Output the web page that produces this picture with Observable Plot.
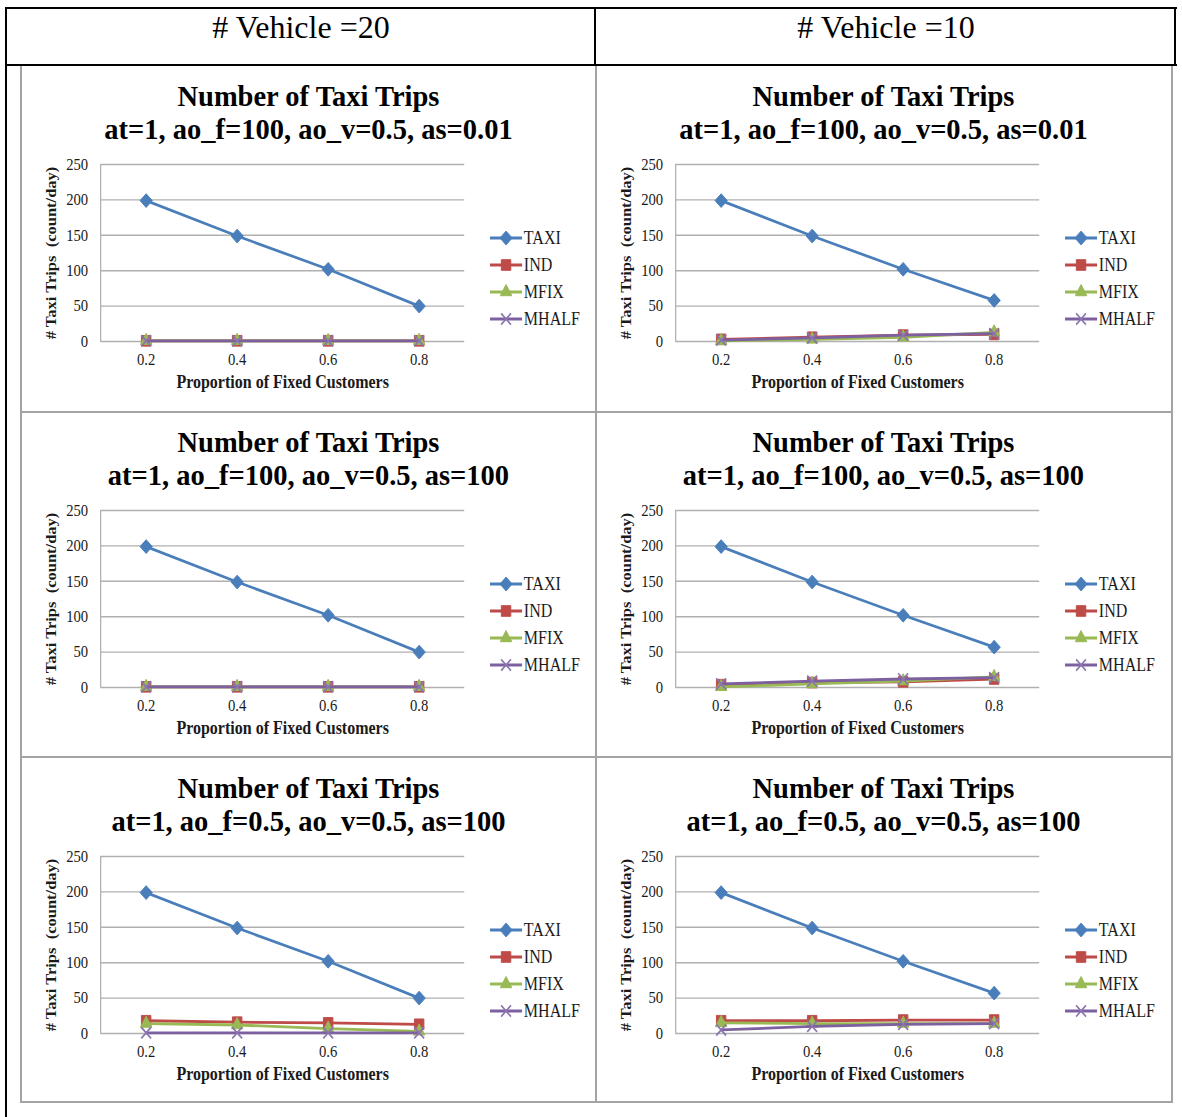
<!DOCTYPE html>
<html>
<head>
<meta charset="utf-8">
<script src="https://cdn.jsdelivr.net/npm/d3@7"></script>
<script src="https://cdn.jsdelivr.net/npm/@observablehq/plot@0.6"></script>
<style>
  body { margin: 0; background: #fff; }
  #page { position: relative; width: 1182px; height: 1117px; overflow: hidden; font-family: "Liberation Serif", "Times New Roman", serif; }
  .rule { position: absolute; }
  .header { position: absolute; top: 11px; font-size: 32px; line-height: 32px; text-align: center; color: #000; }
  .panel { position: absolute; width: 646px; height: 346px; transform: scaleX(0.89); transform-origin: 0 0; }
  .panel svg { position: absolute; left: 0; top: 0; }
  .panel g[aria-label$="tick label"], .panel g[aria-label$="tick label"] text { font-family: "Liberation Serif", "Times New Roman", serif; font-size: 16.5px; fill: #1a1a1a; }
  .title { position: absolute; left: 0; top: 15px; width: 646px; text-align: center; font-weight: bold; font-size: 29.5px; line-height: 33px; color: #000; transform: scaleX(1.085); transform-origin: 323px 0; }
</style>
</head>
<body>
<div id="page"></div>
<script>
// Categories and series
const xValues = [0.2, 0.4, 0.6, 0.8];
const yTicks = [0, 50, 100, 150, 200, 250];
const seriesNames = ["TAXI", "IND", "MFIX", "MHALF"];
const seriesColors = ["#4A7EBB", "#BE4B48", "#98B954", "#7D60A0"];
const seriesSymbols = ["diamond2", "square", "triangle", "times"];
const seriesRadius = [6.2, 6.0, 4.8, 5.1];

// Text
const columnHeaders = ["# Vehicle =20", "# Vehicle =10"];
const chartTitle = "Number of Taxi Trips";
const rowSubtitles = [
  "at=1, ao_f=100, ao_v=0.5, as=0.01",
  "at=1, ao_f=100, ao_v=0.5, as=100",
  "at=1, ao_f=0.5, ao_v=0.5, as=100"
];
const xLabel = "Proportion of Fixed Customers";
const yLabel = "# Taxi Trips  (count/day)";

// Trips per day, one row per series: TAXI, IND, MFIX, MHALF
const veh20_as001 = [[199, 149, 102, 50], [1, 1, 1, 1], [1, 1, 1, 1], [1, 1, 1, 1]];
const veh10_as001 = [[199, 149, 102, 58], [3, 6, 9, 10], [1, 3, 6, 13], [2, 5, 9, 11]];
const veh20_as100 = [[199, 149, 102, 50], [1, 1, 1, 1], [1, 1, 1, 1], [1, 1, 1, 1]];
const veh10_as100 = [[199, 149, 102, 57], [4, 7, 8, 12], [1, 5, 9, 15], [5, 9, 12, 14]];
const veh20_aof05 = [[199, 149, 102, 50], [18, 16, 15, 13], [14, 12, 7, 3], [1, 1, 1, 1]];
const veh10_aof05 = [[199, 149, 102, 57], [18, 18, 19, 19], [15, 14, 14, 14], [5, 10, 13, 14]];

const grid = [
  [veh20_as001, veh10_as001],
  [veh20_as100, veh10_as100],
  [veh20_aof05, veh10_aof05]
];

const page = document.getElementById("page");
const FONT = "Liberation Serif, Times New Roman, serif";

function rule(left, top, width, height, color) {
  const d = document.createElement("div");
  d.className = "rule";
  Object.assign(d.style, { left: left + "px", top: top + "px", width: width + "px", height: height + "px", background: color });
  page.appendChild(d);
}

// Table frame
const colLefts = [21, 596];
const rowTops = [65, 411, 757];
const gray = "#a3a3a3";
rule(20, 65, 2, 1038, gray);
rule(595, 65, 2, 1038, gray);
rule(1171, 65, 2, 1038, gray);
rule(20, 411, 1153, 2, gray);
rule(20, 756, 1153, 2, gray);
rule(20, 1101, 1153, 2, gray);
rule(5, 7, 1172, 2, "#000");
rule(5, 7, 2, 1110, "#000");
rule(5, 64, 1172, 2, "#000");
rule(594, 7, 2, 58, "#000");
rule(1174, 7, 2, 59, "#000");

// Column headers
columnHeaders.forEach((h, c) => {
  const d = document.createElement("div");
  d.className = "header";
  d.style.left = (c === 0 ? 6 : 596) + "px";
  d.style.width = (c === 0 ? 590 : 580) + "px";
  d.textContent = h;
  page.appendChild(d);
});

function panelChart(values) {
  const marks = [
    Plot.ruleY(yTicks, { stroke: "#b0b0b0", strokeWidth: 1.4 }),
    Plot.ruleX([0.1], { y1: 0, y2: 250, stroke: "#b0b0b0", strokeWidth: 1.4 }),
    Plot.axisY(yTicks, { tickSize: 0, tickPadding: 14, fontSize: 16.5, fontFamily: FONT, label: null }),
    Plot.axisX(xValues, { tickSize: 0, tickPadding: 12, tickFormat: d3.format(".1f"), fontSize: 16.5, fontFamily: FONT, label: null })
  ];
  seriesNames.forEach((name, s) => {
    const rows = xValues.map((x, i) => ({ x, y: values[s][i], series: name }));
    marks.push(Plot.line(rows, { x: "x", y: "y", stroke: seriesColors[s], strokeWidth: 2.8 }));
    if (seriesSymbols[s] === "times") {
      marks.push(Plot.dot(rows, { x: "x", y: "y", symbol: "times", r: seriesRadius[s], stroke: "#8B74B0", strokeWidth: 1.8, fill: "none" }));
    } else {
      marks.push(Plot.dot(rows, { x: "x", y: "y", symbol: seriesSymbols[s], r: seriesRadius[s], fill: seriesColors[s], stroke: seriesColors[s], strokeWidth: 1 }));
    }
  });
  marks.push(Plot.text([xLabel], { text: d => d, frameAnchor: "bottom", dy: 41, lineAnchor: "middle", fontSize: 18, fontWeight: "bold", fontFamily: FONT, fill: "#1a1a1a" }));
  marks.push(Plot.text([yLabel], { text: d => d, frameAnchor: "left", rotate: -90, dx: -56, textAnchor: "middle", lineAnchor: "middle", fontSize: 16.5, fontWeight: "bold", fontFamily: FONT, fill: "#1a1a1a" }));

  return Plot.plot({
    width: 646,
    height: 346,
    marginTop: 99,
    marginBottom: 70,
    marginLeft: 89,
    marginRight: 148,
    x: { type: "linear", domain: [0.1, 0.9] },
    y: { domain: [0, 250] },
    style: { fontFamily: FONT, fontSize: "16px", color: "#1a1a1a", background: "transparent", overflow: "visible" },
    marks
  });
}

function legend() {
  const svg = d3.create("svg").attr("width", 646).attr("height", 346)
    .style("overflow", "visible").style("pointer-events", "none");
  const symbolTypes = { diamond2: d3.symbolDiamond2, square: d3.symbolSquare, triangle: d3.symbolTriangle, times: d3.symbolTimes };
  seriesNames.forEach((name, s) => {
    const y = 173 + s * 27;
    const g = svg.append("g");
    g.append("line").attr("x1", 527).attr("x2", 563).attr("y1", y).attr("y2", y)
      .attr("stroke", seriesColors[s]).attr("stroke-width", 2.8);
    const size = Math.PI * seriesRadius[s] * seriesRadius[s];
    const path = g.append("path")
      .attr("transform", `translate(545,${y})`)
      .attr("d", d3.symbol(symbolTypes[seriesSymbols[s]], size)());
    if (seriesSymbols[s] === "times") path.attr("fill", "none").attr("stroke", "#8B74B0").attr("stroke-width", 1.8);
    else path.attr("fill", seriesColors[s]).attr("stroke", seriesColors[s]).attr("stroke-width", 1);
    g.append("text").attr("x", 565).attr("y", y).attr("dy", "0.35em")
      .attr("font-family", FONT).attr("font-size", 18).attr("fill", "#1a1a1a").text(name);
  });
  return svg.node();
}

grid.forEach((rowPanels, r) => {
  rowPanels.forEach((values, c) => {
    const panel = document.createElement("div");
    panel.className = "panel";
    panel.style.left = colLefts[c] + "px";
    panel.style.top = rowTops[r] + "px";
    panel.appendChild(panelChart(values));
    panel.appendChild(legend());
    const t = document.createElement("div");
    t.className = "title";
    const l1 = document.createElement("div"); l1.textContent = chartTitle;
    const l2 = document.createElement("div"); l2.textContent = rowSubtitles[r];
    t.appendChild(l1); t.appendChild(l2);
    panel.appendChild(t);
    page.appendChild(panel);
  });
});
</script>
</body>
</html>
